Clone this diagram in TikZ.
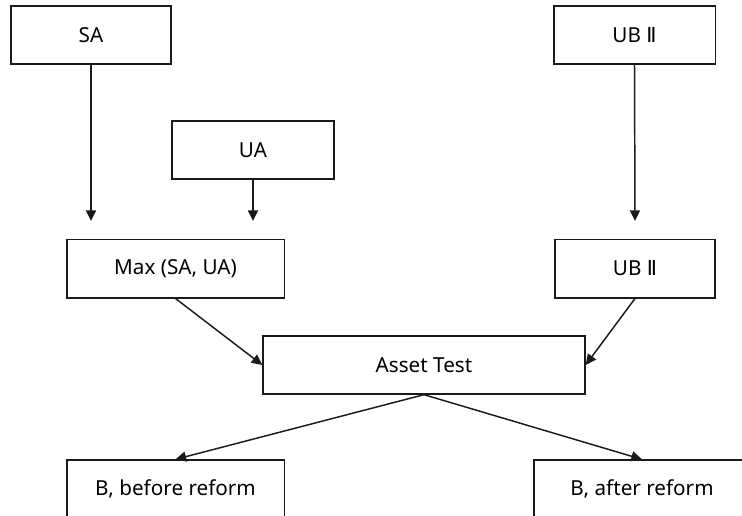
\documentclass[tikz,border=0pt]{standalone}
\usepackage{fontspec}
\setmainfont{Noto Sans}
\newfontfamily\numfont{DejaVu Sans}
\usepackage{tikz}
\usetikzlibrary{arrows.meta,positioning}
\definecolor{Ink}{HTML}{1A1A1A}

\begin{document}
\begin{tikzpicture}[
  x=0.75pt,y=-0.75pt,
  box/.style={
    draw=Ink,fill=white,line width=1pt,minimum height=43.5pt,
    minimum width=120pt,align=center,inner sep=0pt,
    font=\fontsize{15.5}{18}\selectfont
  },
  arr/.style={-{Triangle[length=8pt,width=7.5pt]},draw=Ink,line width=1.1pt}
]
  \useasboundingbox (0,0) rectangle (742,515);
  \clip (0,0) rectangle (742,515);

  \node[box,minimum width=120pt] (sa) at (91,35) {SA};
  \node[box,minimum width=121.5pt] (ua) at (253,150) {UA};
  \node[box,minimum width=121pt] (ubtop) at (634.5,35) {UB {\numfont Ⅱ}};
  \node[box,minimum width=163pt,minimum height=44pt] (max) at (175.5,268.5) {Max (SA, UA)};
  \node[box,minimum width=120pt,minimum height=44pt] (ublow) at (635,268.5) {UB {\numfont Ⅱ}};
  \node[box,minimum width=241.5pt] (asset) at (424,365) {Asset Test};
  \node[box,minimum width=163pt] (before) at (175.5,489) {B, before reform};
  \node[box,minimum width=162pt] (after) at (642,489) {B, after reform};

  \coordinate (saend) at (91,221);
  \coordinate (uaend) at (253,221);
  \coordinate (ubend) at (635,221);

  \draw[arr] (sa.south) -- (saend);
  \draw[arr] (ua.south) -- (uaend);
  \draw[arr] (ubtop.south) -- (ubend);
  \draw[arr] (max.south) -- (asset.west);
  \draw[arr] (ublow.south) -- (asset.east);
  \draw[arr] (asset.south) -- (before.north);
  \draw[arr] (asset.south) -- (after.north);
\end{tikzpicture}
\end{document}
